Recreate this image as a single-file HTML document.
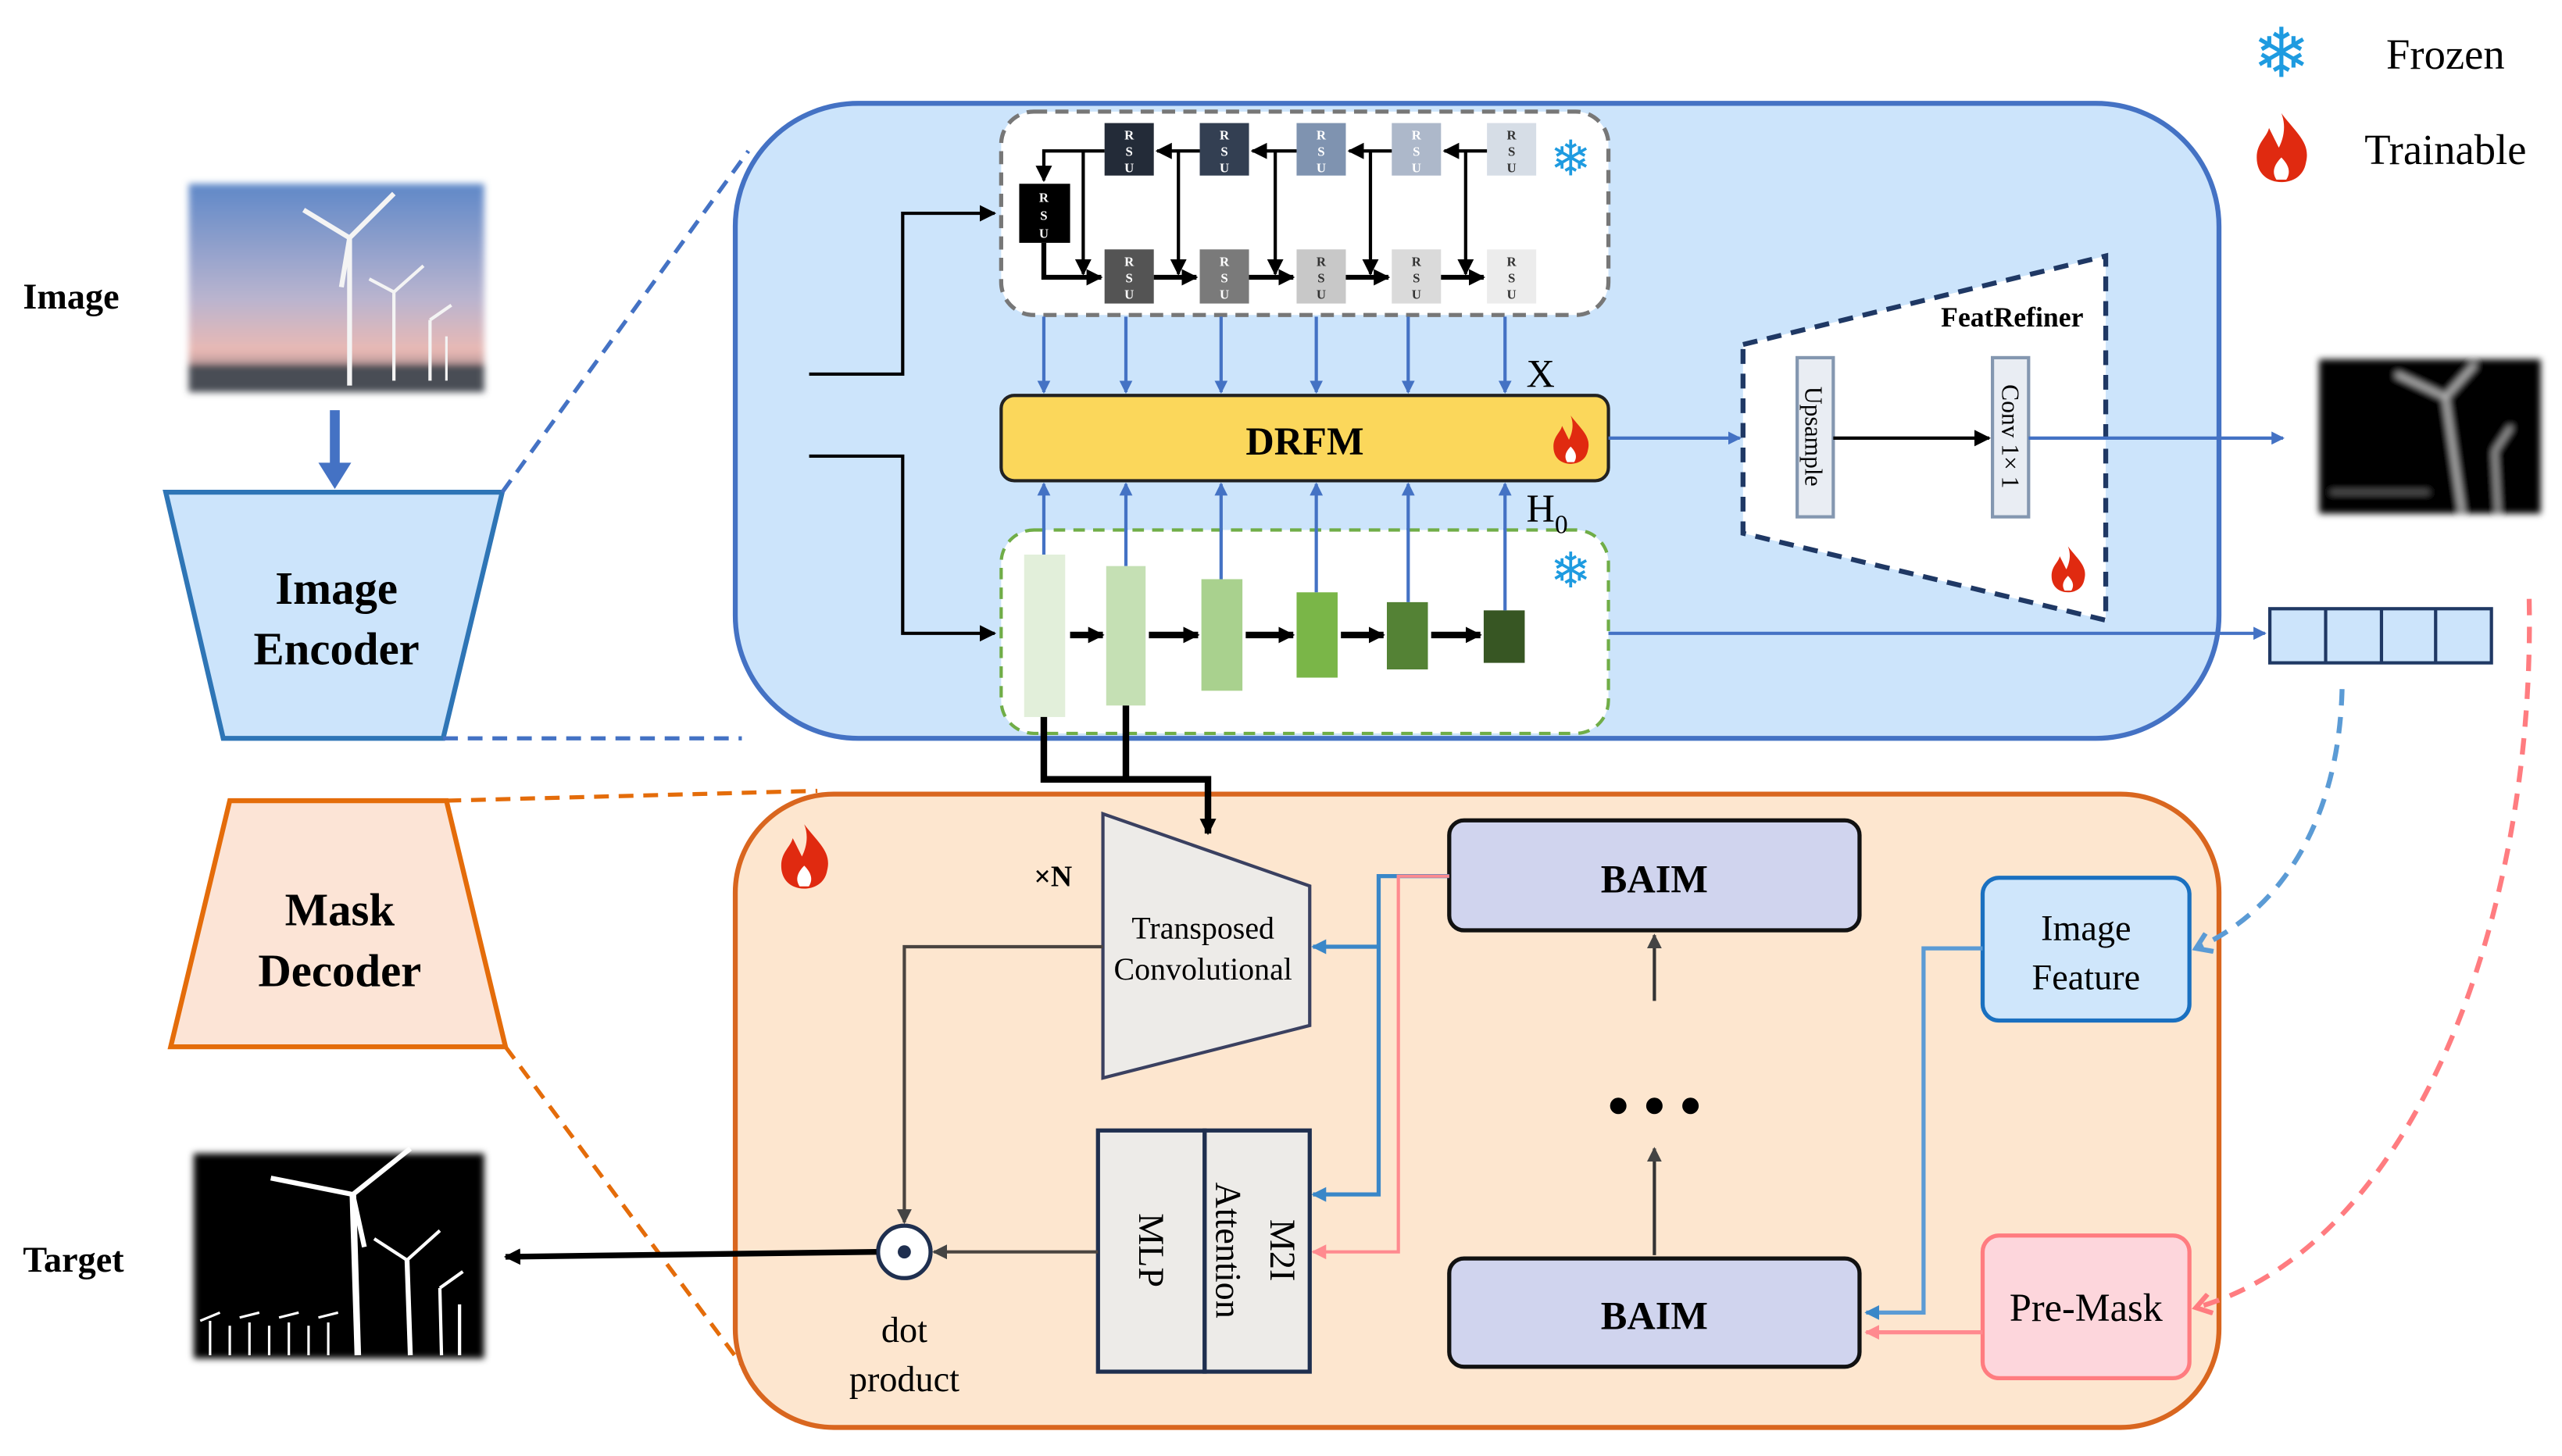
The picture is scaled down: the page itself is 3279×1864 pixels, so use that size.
<!DOCTYPE html>
<html><head><meta charset="utf-8"><style>
html,body{margin:0;padding:0;background:#fff;}
svg{display:block;}
</style></head><body>
<svg width="3279" height="1864" viewBox="0 0 1561 887.4" preserveAspectRatio="none" xmlns="http://www.w3.org/2000/svg" font-family="'Liberation Serif', 'Times New Roman', serif">
<defs>
<marker id="ab" markerWidth="8" markerHeight="8" refX="7" refY="4" orient="auto" markerUnits="userSpaceOnUse" viewBox="0 0 8 8"><path d="M0,0 L8,4 L0,8 z" fill="#4472c4"/></marker>
<marker id="ak" markerWidth="10" markerHeight="10" refX="9" refY="5" orient="auto" markerUnits="userSpaceOnUse" viewBox="0 0 10 10"><path d="M0,0 L10,5 L0,10 z" fill="#000"/></marker>
<marker id="ag" markerWidth="9" markerHeight="9" refX="8" refY="4.5" orient="auto" markerUnits="userSpaceOnUse" viewBox="0 0 9 9"><path d="M0,0 L9,4.5 L0,9 z" fill="#444"/></marker>
<marker id="abl" markerWidth="9" markerHeight="9" refX="8" refY="4.5" orient="auto" markerUnits="userSpaceOnUse" viewBox="0 0 9 9"><path d="M0,0 L9,4.5 L0,9 z" fill="#3a87c8"/></marker>
<marker id="apk" markerWidth="9" markerHeight="9" refX="8" refY="4.5" orient="auto" markerUnits="userSpaceOnUse" viewBox="0 0 9 9"><path d="M0,0 L9,4.5 L0,9 z" fill="#ff8a8f"/></marker>
<marker id="aob" markerWidth="14" markerHeight="14" refX="11" refY="7" orient="auto" markerUnits="userSpaceOnUse" viewBox="0 0 14 14"><path d="M2,1 L11,7 L2,13" fill="none" stroke-width="3" stroke="#5b9bd5"/></marker>
<marker id="aop" markerWidth="14" markerHeight="14" refX="11" refY="7" orient="auto" markerUnits="userSpaceOnUse" viewBox="0 0 14 14"><path d="M2,1 L11,7 L2,13" fill="none" stroke-width="3" stroke="#ff7c80"/></marker>
<linearGradient id="sky" x1="0" y1="0" x2="0" y2="1"><stop offset="0" stop-color="#5f88c8"/><stop offset="0.55" stop-color="#b9b4cf"/><stop offset="0.8" stop-color="#e9b9b4"/><stop offset="1" stop-color="#5a5a66"/></linearGradient>
<filter id="blur"><feGaussianBlur stdDeviation="2"/></filter>
<g id="fire"><path d="M0,-14 C6,-6 12,-2 10,6 C9,12 4,14 0,14 C-5,14 -10,11 -10,4 C-10,-2 -6,-4 -5,-8 C-3,-4 -2,-2 -1,0 C1,-4 2,-9 0,-14 z" fill="#e02a10"/><path d="M0,4 C3,7 4,10 2,13 L-2,13 C-4,10 -3,7 0,4 z" fill="#fff"/></g>
</defs>

<!-- legend -->
<text x="1390" y="47" font-family="DejaVu Sans" font-size="42" fill="#1e9be0" text-anchor="middle">❄</text>
<text x="1490" y="42" font-size="26" text-anchor="middle">Frozen</text>
<use href="#fire" transform="translate(1390,90) scale(1.5)"/>
<text x="1490" y="100" font-size="26" text-anchor="middle">Trainable</text>

<!-- left labels -->
<text x="14" y="188" font-size="22" font-weight="bold">Image</text>
<text x="14" y="775" font-size="22" font-weight="bold">Target</text>

<!-- input image -->
<g filter="url(#blur)">
<rect x="115" y="112" width="180" height="127" fill="url(#sky)"/>
<rect x="115" y="222" width="180" height="17" fill="#4a4d55"/>
</g>
<g stroke="#f4f4f4" stroke-width="3" fill="none">
<line x1="213" y1="145" x2="213" y2="235"/><line x1="213" y1="145" x2="240" y2="118"/><line x1="213" y1="145" x2="185" y2="128"/><line x1="213" y1="145" x2="208" y2="175"/>
<line x1="240" y1="178" x2="240" y2="232" stroke-width="2"/><line x1="240" y1="178" x2="258" y2="162" stroke-width="2"/><line x1="240" y1="178" x2="225" y2="170" stroke-width="2"/>
<line x1="262" y1="195" x2="262" y2="232" stroke-width="2"/><line x1="262" y1="195" x2="275" y2="186" stroke-width="2"/>
<line x1="272" y1="205" x2="272" y2="232" stroke-width="1.5"/>
</g>
<line x1="204" y1="250" x2="204" y2="285" stroke="#4472c4" stroke-width="6"/>
<path d="M194,282 L214,282 L204,298 z" fill="#4472c4"/>

<!-- image encoder -->
<path d="M101,300 L306,300 L270,450 L136,450 z" fill="#cce4fb" stroke="#2e75b6" stroke-width="3"/>
<text x="205" y="368" font-size="28" font-weight="bold" text-anchor="middle">Image</text>
<text x="205" y="405" font-size="28" font-weight="bold" text-anchor="middle">Encoder</text>
<line x1="306" y1="300" x2="456" y2="92" stroke="#4472c4" stroke-width="2.5" stroke-dasharray="9,6"/>
<line x1="270" y1="450" x2="452" y2="450" stroke="#4472c4" stroke-width="2.5" stroke-dasharray="9,6"/>

<!-- big blue panel -->
<rect x="448" y="63" width="904" height="387" rx="75" fill="#cce4fb" stroke="#4472c4" stroke-width="3"/>

<!-- input lines -->
<polyline points="493,228 550,228 550,130 606,130" fill="none" stroke="#000" stroke-width="2" marker-end="url(#ak)"/>
<polyline points="493,278 550,278 550,386 606,386" fill="none" stroke="#000" stroke-width="2" marker-end="url(#ak)"/>

<!-- RSU box -->
<rect x="610" y="68" width="370" height="124" rx="20" fill="#fff" stroke="#777" stroke-width="2.5" stroke-dasharray="8,5"/>
<g font-size="8" text-anchor="middle" font-weight="bold">
<rect x="673" y="75" width="30" height="32" fill="#232b38"/><text x="688" y="85" fill="#fff">R</text><text x="688" y="95" fill="#fff">S</text><text x="688" y="105" fill="#fff">U</text>
<rect x="731" y="75" width="30" height="32" fill="#333f52"/><text x="746" y="85" fill="#fff">R</text><text x="746" y="95" fill="#fff">S</text><text x="746" y="105" fill="#fff">U</text>
<rect x="790" y="75" width="30" height="32" fill="#7f93b0"/><text x="805" y="85" fill="#fff">R</text><text x="805" y="95" fill="#fff">S</text><text x="805" y="105" fill="#fff">U</text>
<rect x="848" y="75" width="30" height="32" fill="#adb8ca"/><text x="863" y="85" fill="#fff">R</text><text x="863" y="95" fill="#fff">S</text><text x="863" y="105" fill="#fff">U</text>
<rect x="906" y="75" width="30" height="32" fill="#d6dde6"/><text x="921" y="85" fill="#333">R</text><text x="921" y="95" fill="#333">S</text><text x="921" y="105" fill="#333">U</text>
<rect x="621" y="112" width="31" height="36" fill="#000"/><text x="636" y="123" fill="#fff">R</text><text x="636" y="134" fill="#fff">S</text><text x="636" y="145" fill="#fff">U</text>
<rect x="673" y="152" width="30" height="33" fill="#545454"/><text x="688" y="162" fill="#fff">R</text><text x="688" y="172" fill="#fff">S</text><text x="688" y="182" fill="#fff">U</text>
<rect x="731" y="152" width="30" height="33" fill="#7a7a7a"/><text x="746" y="162" fill="#fff">R</text><text x="746" y="172" fill="#fff">S</text><text x="746" y="182" fill="#fff">U</text>
<rect x="790" y="152" width="30" height="33" fill="#c8c8c8"/><text x="805" y="162" fill="#333">R</text><text x="805" y="172" fill="#333">S</text><text x="805" y="182" fill="#333">U</text>
<rect x="848" y="152" width="30" height="33" fill="#dadada"/><text x="863" y="162" fill="#333">R</text><text x="863" y="172" fill="#333">S</text><text x="863" y="182" fill="#333">U</text>
<rect x="906" y="152" width="30" height="33" fill="#ececec"/><text x="921" y="162" fill="#333">R</text><text x="921" y="172" fill="#333">S</text><text x="921" y="182" fill="#333">U</text>
</g>
<g stroke="#000" stroke-width="2" fill="none">
<line x1="906" y1="92" x2="880" y2="92" marker-end="url(#ak)"/>
<line x1="848" y1="92" x2="822" y2="92" marker-end="url(#ak)"/>
<line x1="790" y1="92" x2="763" y2="92" marker-end="url(#ak)"/>
<line x1="731" y1="92" x2="705" y2="92" marker-end="url(#ak)"/>
<polyline points="673,92 636,92 636,110" marker-end="url(#ak)"/>
<polyline points="636,148 636,169 671,169" stroke-width="3" marker-end="url(#ak)"/>
<line x1="703" y1="169" x2="729" y2="169" stroke-width="3" marker-end="url(#ak)"/>
<line x1="761" y1="169" x2="788" y2="169" stroke-width="3" marker-end="url(#ak)"/>
<line x1="820" y1="169" x2="846" y2="169" stroke-width="3" marker-end="url(#ak)"/>
<line x1="878" y1="169" x2="904" y2="169" stroke-width="3" marker-end="url(#ak)"/>
<line x1="660" y1="92" x2="660" y2="167" marker-end="url(#ak)"/>
<line x1="718" y1="92" x2="718" y2="167" marker-end="url(#ak)"/>
<line x1="777" y1="92" x2="777" y2="167" marker-end="url(#ak)"/>
<line x1="835" y1="92" x2="835" y2="167" marker-end="url(#ak)"/>
<line x1="893" y1="92" x2="893" y2="167" marker-end="url(#ak)"/>
</g>
<text x="957" y="107" font-family="DejaVu Sans" font-size="30" fill="#1e9be0" text-anchor="middle">❄</text>

<!-- blue arrows to DRFM -->
<g stroke="#4472c4" stroke-width="2">
<line x1="636" y1="193" x2="636" y2="239" marker-end="url(#ab)"/>
<line x1="686" y1="193" x2="686" y2="239" marker-end="url(#ab)"/>
<line x1="744" y1="193" x2="744" y2="239" marker-end="url(#ab)"/>
<line x1="802" y1="193" x2="802" y2="239" marker-end="url(#ab)"/>
<line x1="858" y1="193" x2="858" y2="239" marker-end="url(#ab)"/>
<line x1="917" y1="193" x2="917" y2="239" marker-end="url(#ab)"/>
<line x1="636" y1="338" x2="636" y2="295" marker-end="url(#ab)"/>
<line x1="686" y1="345" x2="686" y2="295" marker-end="url(#ab)"/>
<line x1="744" y1="353" x2="744" y2="295" marker-end="url(#ab)"/>
<line x1="802" y1="361" x2="802" y2="295" marker-end="url(#ab)"/>
<line x1="858" y1="367" x2="858" y2="295" marker-end="url(#ab)"/>
<line x1="917" y1="372" x2="917" y2="295" marker-end="url(#ab)"/>
</g>
<text x="930" y="236" font-size="24">X</text>

<!-- DRFM -->
<rect x="610" y="241" width="370" height="52" rx="8" fill="#fbd75b" stroke="#222" stroke-width="2"/>
<text x="795" y="277" font-size="24" font-weight="bold" text-anchor="middle">DRFM</text>
<use href="#fire" transform="translate(957,268) scale(1.05)"/>

<!-- green box -->
<rect x="610" y="323" width="370" height="124" rx="20" fill="#fff" stroke="#70ad47" stroke-width="2" stroke-dasharray="7,5"/>
<rect x="624" y="338" width="25" height="99" fill="#e2efda"/>
<rect x="674" y="345" width="24" height="85" fill="#c5e0b4"/>
<rect x="732" y="353" width="25" height="68" fill="#a9d18e"/>
<rect x="790" y="361" width="25" height="52" fill="#7ab648"/>
<rect x="845" y="367" width="25" height="41" fill="#548235"/>
<rect x="904" y="372" width="25" height="32" fill="#375623"/>
<g stroke="#4472c4" stroke-width="2">
<line x1="636" y1="338" x2="636" y2="322"/><line x1="686" y1="345" x2="686" y2="322"/><line x1="744" y1="353" x2="744" y2="322"/>
<line x1="802" y1="361" x2="802" y2="322"/><line x1="858" y1="367" x2="858" y2="322"/><line x1="917" y1="372" x2="917" y2="322"/>
</g>
<g stroke="#000" stroke-width="4">
<line x1="652" y1="387" x2="672" y2="387" marker-end="url(#ak)"/>
<line x1="700" y1="387" x2="730" y2="387" marker-end="url(#ak)"/>
<line x1="759" y1="387" x2="788" y2="387" marker-end="url(#ak)"/>
<line x1="817" y1="387" x2="843" y2="387" marker-end="url(#ak)"/>
<line x1="872" y1="387" x2="902" y2="387" marker-end="url(#ak)"/>
</g>
<text x="957" y="358" font-family="DejaVu Sans" font-size="30" fill="#1e9be0" text-anchor="middle">❄</text>
<text x="930" y="318" font-size="24">H<tspan font-size="16" dy="7">0</tspan></text>

<!-- DRFM to FeatRefiner -->
<line x1="980" y1="267" x2="1060" y2="267" stroke="#4472c4" stroke-width="2" marker-end="url(#ab)"/>
<path d="M1062,210 L1283,156 L1283,378 L1062,325 z" fill="#fff" stroke="#1f3864" stroke-width="3" stroke-dasharray="9,6"/>
<text x="1226" y="199" font-size="17" font-weight="bold" text-anchor="middle">FeatRefiner</text>
<rect x="1095" y="218" width="22" height="97" fill="#e9edf3" stroke="#8497b0" stroke-width="2"/>
<text transform="translate(1100,266) rotate(90)" font-size="15" text-anchor="middle">Upsample</text>
<rect x="1214" y="218" width="22" height="97" fill="#e9edf3" stroke="#8497b0" stroke-width="2"/>
<text transform="translate(1220,266) rotate(90)" font-size="15" text-anchor="middle">Conv 1× 1</text>
<line x1="1117" y1="267" x2="1212" y2="267" stroke="#000" stroke-width="2" marker-end="url(#ak)"/>
<line x1="1236" y1="267" x2="1391" y2="267" stroke="#4472c4" stroke-width="2" marker-end="url(#ab)"/>
<use href="#fire" transform="translate(1260,347)"/>

<!-- mask output image -->
<g filter="url(#blur)">
<rect x="1413" y="219" width="135" height="94" fill="#000"/>
<g stroke="#bbb" stroke-width="3" fill="none">
<line x1="1490" y1="242" x2="1500" y2="312"/><line x1="1490" y1="242" x2="1460" y2="228"/><line x1="1490" y1="242" x2="1508" y2="222"/>
<line x1="1520" y1="275" x2="1522" y2="312" stroke-width="2"/><line x1="1520" y1="275" x2="1530" y2="260" stroke-width="2"/>
<line x1="1420" y1="300" x2="1480" y2="300" stroke-width="2" stroke="#666"/>
</g></g>

<!-- token line -->
<line x1="980" y1="386" x2="1380" y2="386" stroke="#4472c4" stroke-width="2" marker-end="url(#ab)"/>
<rect x="1383" y="371" width="135" height="33" fill="#cce4fb" stroke="#1f3864" stroke-width="2"/>
<line x1="1417" y1="371" x2="1417" y2="404" stroke="#1f3864" stroke-width="2"/>
<line x1="1451" y1="371" x2="1451" y2="404" stroke="#1f3864" stroke-width="2"/>
<line x1="1484" y1="371" x2="1484" y2="404" stroke="#1f3864" stroke-width="2"/>

<!-- mask decoder -->
<path d="M140,488 L272,488 L308,638 L104,638 z" fill="#fce4d6" stroke="#e46c0a" stroke-width="3"/>
<text x="207" y="564" font-size="28" font-weight="bold" text-anchor="middle">Mask</text>
<text x="207" y="601" font-size="28" font-weight="bold" text-anchor="middle">Decoder</text>
<line x1="272" y1="488" x2="498" y2="482" stroke="#e46c0a" stroke-width="2.5" stroke-dasharray="9,6"/>
<line x1="308" y1="638" x2="458" y2="840" stroke="#e46c0a" stroke-width="2.5" stroke-dasharray="9,6"/>

<!-- orange panel -->
<rect x="448" y="484" width="904" height="386" rx="60" fill="#fde6cf" stroke="#d9661f" stroke-width="3"/>
<use href="#fire" transform="translate(490,522) scale(1.4)"/>

<!-- dashed curves -->
<path d="M1427,420 C1425,500 1390,555 1338,578" fill="none" stroke="#5b9bd5" stroke-width="3" stroke-dasharray="10,7" marker-end="url(#aob)"/>
<path d="M1541,365 C1545,560 1470,760 1338,797" fill="none" stroke="#ff7c80" stroke-width="3" stroke-dasharray="10,7" marker-end="url(#aop)"/>

<!-- black lines from green -->
<polyline points="636,437 636,475 736,475 736,508" fill="none" stroke="#000" stroke-width="4" marker-end="url(#ak)"/>
<line x1="686" y1="430" x2="686" y2="475" stroke="#000" stroke-width="4"/>

<!-- transposed conv -->
<path d="M672,496 L798,540 L798,625 L672,657 z" fill="#edebe8" stroke="#3a4060" stroke-width="2"/>
<text x="733" y="572" font-size="19" text-anchor="middle">Transposed</text>
<text x="733" y="597" font-size="19" text-anchor="middle">Convolutional</text>
<text x="630" y="540" font-size="18" font-weight="bold">×N</text>

<!-- BAIM -->
<rect x="883" y="500" width="250" height="67" rx="9" fill="#d0d4ee" stroke="#111" stroke-width="2.5"/>
<text x="1008" y="544" font-size="24" font-weight="bold" text-anchor="middle">BAIM</text>
<rect x="883" y="767" width="250" height="66" rx="9" fill="#d0d4ee" stroke="#111" stroke-width="2.5"/>
<text x="1008" y="810" font-size="24" font-weight="bold" text-anchor="middle">BAIM</text>
<line x1="1008" y1="610" x2="1008" y2="570" stroke="#333" stroke-width="2" marker-end="url(#ag)"/>
<line x1="1008" y1="765" x2="1008" y2="700" stroke="#333" stroke-width="2" marker-end="url(#ag)"/>
<circle cx="986" cy="674" r="5"/><circle cx="1008" cy="674" r="5"/><circle cx="1030" cy="674" r="5"/>

<!-- image feature / premask -->
<rect x="1208" y="535" width="126" height="87" rx="10" fill="#cfe6fb" stroke="#1a70c0" stroke-width="2.5"/>
<text x="1271" y="573" font-size="22" text-anchor="middle">Image</text>
<text x="1271" y="603" font-size="22" text-anchor="middle">Feature</text>
<rect x="1208" y="753" width="126" height="87" rx="10" fill="#fdd6dc" stroke="#ff7c80" stroke-width="2.5"/>
<text x="1271" y="805" font-size="24" text-anchor="middle">Pre-Mask</text>
<polyline points="1208,578 1172,578 1172,800 1137,800" fill="none" stroke="#5b9bd5" stroke-width="2.5" marker-end="url(#abl)"/>
<line x1="1208" y1="812" x2="1137" y2="812" stroke="#ff8a8f" stroke-width="2.5" marker-end="url(#apk)"/>

<!-- BAIM to MLP/TC -->
<polyline points="883,534 840,534 840,728 800,728" fill="none" stroke="#3a87c8" stroke-width="2.5" marker-end="url(#abl)"/>
<line x1="840" y1="577" x2="800" y2="577" stroke="#3a87c8" stroke-width="2.5" marker-end="url(#abl)"/>
<polyline points="883,534 852,534 852,763 800,763" fill="none" stroke="#ff8a8f" stroke-width="2" marker-end="url(#apk)"/>

<!-- MLP/M2I -->
<rect x="669" y="689" width="65" height="147" fill="#edebe8" stroke="#1f2f4f" stroke-width="2.5"/>
<rect x="734" y="689" width="64" height="147" fill="#edebe8" stroke="#1f2f4f" stroke-width="2.5"/>
<text transform="translate(694,762) rotate(90)" font-size="22" text-anchor="middle">MLP</text>
<text transform="translate(774,762) rotate(90)" font-size="22" text-anchor="middle">M2I</text>
<text transform="translate(741,762) rotate(90)" font-size="22" text-anchor="middle">Attention</text>

<!-- dot product -->
<polyline points="672,577 551,577 551,745" fill="none" stroke="#4a4440" stroke-width="2" marker-end="url(#ag)"/>
<line x1="669" y1="763" x2="569" y2="763" stroke="#4a4440" stroke-width="2" marker-end="url(#ag)"/>
<circle cx="551" cy="763" r="16" fill="#fff" stroke="#1f2f4f" stroke-width="2.5"/>
<circle cx="551" cy="763" r="4" fill="#1f2f4f"/>
<line x1="534" y1="763" x2="308" y2="766" stroke="#000" stroke-width="3.5" marker-end="url(#ak)"/>
<text x="551" y="818" font-size="22" text-anchor="middle">dot</text>
<text x="551" y="848" font-size="22" text-anchor="middle">product</text>

<!-- target image -->
<g filter="url(#blur)"><rect x="118" y="703" width="177" height="125" fill="#000"/></g>
<g stroke="#fff" fill="none">
<line x1="215" y1="728" x2="218" y2="826" stroke-width="4"/><line x1="215" y1="728" x2="250" y2="700" stroke-width="3"/><line x1="215" y1="728" x2="165" y2="718" stroke-width="3"/><line x1="215" y1="728" x2="222" y2="760" stroke-width="3"/>
<line x1="248" y1="768" x2="250" y2="826" stroke-width="3"/><line x1="248" y1="768" x2="268" y2="750" stroke-width="2"/><line x1="248" y1="768" x2="228" y2="755" stroke-width="2"/>
<line x1="268" y1="785" x2="269" y2="826" stroke-width="2"/><line x1="268" y1="785" x2="282" y2="775" stroke-width="2"/>
<line x1="280" y1="795" x2="280" y2="826" stroke-width="2"/>
<g stroke-width="1.5"><line x1="128" y1="805" x2="128" y2="826"/><line x1="140" y1="808" x2="140" y2="826"/><line x1="152" y1="806" x2="152" y2="826"/><line x1="164" y1="808" x2="164" y2="826"/><line x1="176" y1="806" x2="176" y2="826"/><line x1="188" y1="808" x2="188" y2="826"/><line x1="200" y1="806" x2="200" y2="826"/>
<line x1="122" y1="805" x2="134" y2="800"/><line x1="146" y1="803" x2="158" y2="800"/><line x1="170" y1="803" x2="182" y2="800"/><line x1="194" y1="803" x2="206" y2="800"/></g>
</g>
</svg>
</body></html>
